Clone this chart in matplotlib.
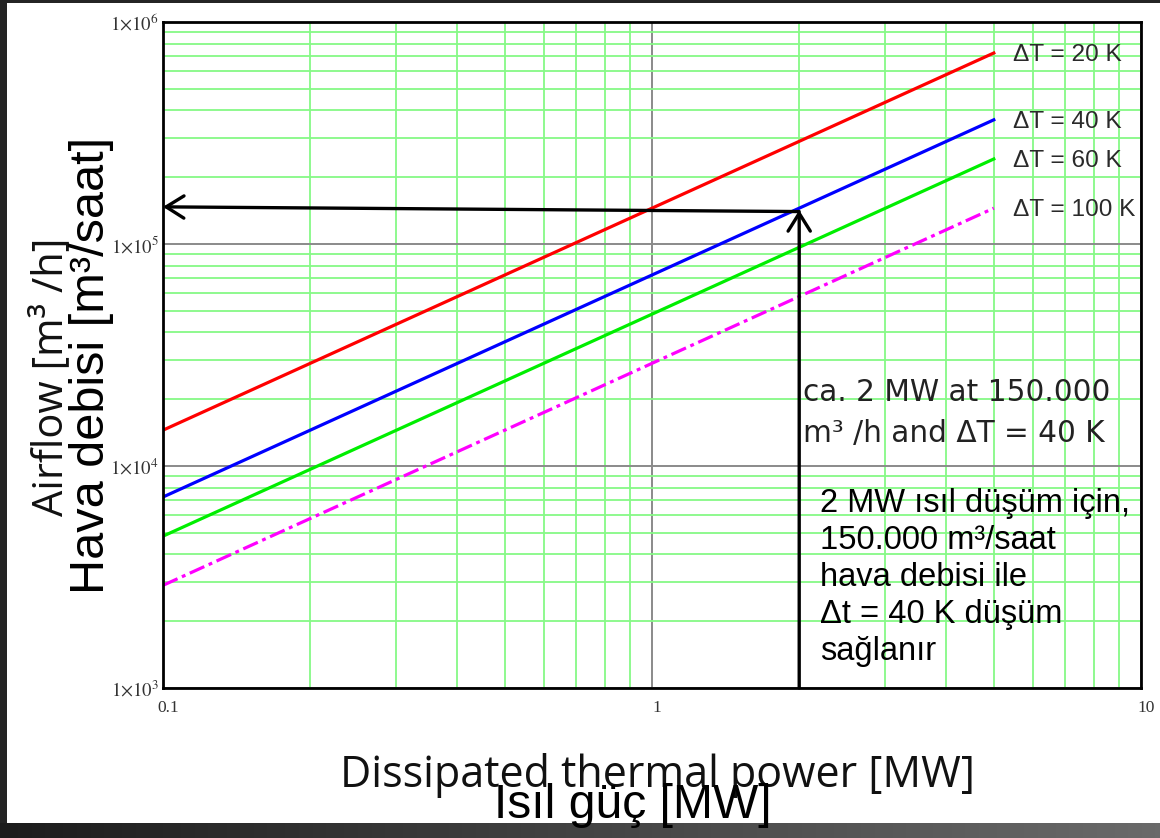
import numpy as np
import matplotlib
matplotlib.use("Agg")
import matplotlib.pyplot as plt
from matplotlib.ticker import FixedLocator, LogLocator, NullFormatter, FixedFormatter
from matplotlib.patches import Rectangle
from matplotlib.colors import LinearSegmentedColormap
import matplotlib.transforms as mtransforms

plt.rcParams["mathtext.fontset"] = "stix"

# ---- data -------------------------------------------------------------
power_mw = [0.1, 5.0]                 # dissipated thermal power [MW]
airflow_dt20 = [14500, 725000]        # airflow [m3/h] for dT = 20 K
airflow_dt40 = [7250, 362500]         # dT = 40 K
airflow_dt60 = [4830, 241500]         # dT = 60 K
airflow_dt100 = [2900, 145000]        # dT = 100 K
series_labels = ["ΔT = 20 K", "ΔT = 40 K", "ΔT = 60 K", "ΔT = 100 K"]

y_ticks = [1e3, 1e4, 1e5, 1e6]
y_tick_labels = [r"$1{\times}10^{3}$", r"$1{\times}10^{4}$",
                 r"$1{\times}10^{5}$", r"$1{\times}10^{6}$"]
x_ticks = [0.1, 1, 10]
x_tick_labels = ["0.1", "1", "10"]

# reading example: 2 MW at ~150 000 m3/h with dT = 40 K
read_power = 2.0
read_flow_at_curve = 1.42e5
read_flow_right = 1.40e5
read_flow_left = 1.47e5

# ---- figure -----------------------------------------------------------
W, H = 1160, 838
fig = plt.figure(figsize=(W / 100, H / 100), dpi=100, facecolor="#242424")

# white slide panel
fig.patches.append(Rectangle((7 / W, 15 / H), 1 - 7 / W, 1 - 15 / H - 3 / H,
                             transform=fig.transFigure, facecolor="white",
                             edgecolor="none", zorder=0))
# dark gradient strip along the bottom
strip = fig.add_axes([0, 0, 1, 15 / H], zorder=0.5)
grad = np.linspace(0, 1, 256).reshape(1, -1)
strip.imshow(grad, aspect="auto", extent=(0, 1, 0, 1),
             cmap=LinearSegmentedColormap.from_list("strip", ["#1c1c1c", "#6a6a6a"]))
strip.set_axis_off()

ax = fig.add_axes([163 / W, 1 - 688 / H, 978 / W, 666 / H], zorder=1)
ax.set_xscale("log")
ax.set_yscale("log")
ax.set_xlim(0.1, 10)
ax.set_ylim(1e3, 1e6)

# grid: light green minor lines, gray decade lines
ax.xaxis.set_minor_locator(LogLocator(base=10, subs=np.arange(2, 10), numticks=20))
ax.yaxis.set_minor_locator(LogLocator(base=10, subs=np.arange(2, 10), numticks=20))
ax.xaxis.set_minor_formatter(NullFormatter())
ax.yaxis.set_minor_formatter(NullFormatter())
ax.grid(which="minor", color="#86f986", lw=1.3, zorder=0)
ax.grid(which="major", color="#8a8a8a", lw=1.4, zorder=0)
ax.set_axisbelow(True)

ax.xaxis.set_major_locator(FixedLocator(x_ticks))
ax.xaxis.set_major_formatter(FixedFormatter(x_tick_labels))
ax.yaxis.set_major_locator(FixedLocator(y_ticks))
ax.yaxis.set_major_formatter(FixedFormatter(y_tick_labels))
ax.tick_params(which="both", length=0)
ax.tick_params(axis="x", pad=9, labelsize=12.5, labelcolor="#333333")
ax.tick_params(axis="y", pad=3, labelsize=13.5, labelcolor="#333333")
for lab in ax.get_xticklabels():
    lab.set_fontfamily("Liberation Serif")
    lab.set_transform(lab.get_transform() +
                      mtransforms.ScaledTranslation(5 / 100, 0, fig.dpi_scale_trans))

for sp in ax.spines.values():
    sp.set_color("black")
    sp.set_linewidth(2.0)
    sp.set_zorder(5)

# curves
ax.plot(power_mw, airflow_dt20, color="#ff0000", lw=2.3, zorder=3)
ax.plot(power_mw, airflow_dt40, color="#0000ff", lw=2.3, zorder=3)
ax.plot(power_mw, airflow_dt60, color="#00ee00", lw=2.3, zorder=3)
ax.plot(power_mw, airflow_dt100, color="#ff00ff", lw=2.3, zorder=3,
        dashes=(5, 1.5, 1.2, 1.5))

for vals, lab in zip([airflow_dt20, airflow_dt40, airflow_dt60, airflow_dt100],
                     series_labels):
    ax.annotate(lab, xy=(power_mw[-1], vals[-1]), xytext=(13.5, -1.5),
                textcoords="offset points", va="center", ha="left",
                fontsize=17.6, color="#2a2a2a", family="Liberation Sans",
                annotation_clip=False)

# reading arrows
arrow_kw = dict(arrowstyle="->,head_length=0.8,head_width=0.5",
                lw=2.4, color="black", shrinkA=0, shrinkB=0, mutation_scale=16)
ax.annotate("", xy=(read_power, read_flow_at_curve), xytext=(read_power, 1e3),
            arrowprops=arrow_kw, annotation_clip=False, zorder=4)
ax.annotate("", xy=(0.1, read_flow_left), xytext=(read_power, read_flow_right),
            arrowprops=arrow_kw, annotation_clip=False, zorder=4)

ax.text(0.6545, 0.413, "ca. 2 MW at 150.000\nm³ /h and ΔT = 40 K",
        transform=ax.transAxes, ha="left", va="center", fontsize=21.3,
        family="DejaVu Sans", color="#222222", linespacing=1.5, zorder=6)
ax.text(0.672, 0.166,
        "2 MW ısıl düşüm için,\n150.000 m³/saat\nhava debisi ile\nΔt = 40 K düşüm\nsağlanır",
        transform=ax.transAxes, ha="left", va="center", fontsize=23.5,
        family="Liberation Sans", color="black", linespacing=1.25, zorder=6)

# axis titles (English + Turkish)
fig.text(51 / W, 1 - 377 / H, "Airflow [m³ /h]", rotation=90, ha="center",
         va="center", fontsize=30, family="Open Sans", color="#111111", zorder=6)
fig.text(92 / W, 1 - 365 / H, "Hava debisi [m³/saat]", rotation=90, ha="center",
         va="center", fontsize=35, family="Liberation Sans", color="black", zorder=6)
fig.text(657 / W, 1 - 775 / H, "Dissipated thermal power [MW]", ha="center",
         va="center", fontsize=31, family="Open Sans", color="#111111", zorder=6)
fig.text(633 / W, 1 - 805 / H, "Isıl güç [MW]", ha="center", va="center",
         fontsize=34.6, family="Liberation Sans", color="black", zorder=6)

fig.savefig("out.png", dpi=100, facecolor=fig.get_facecolor())
